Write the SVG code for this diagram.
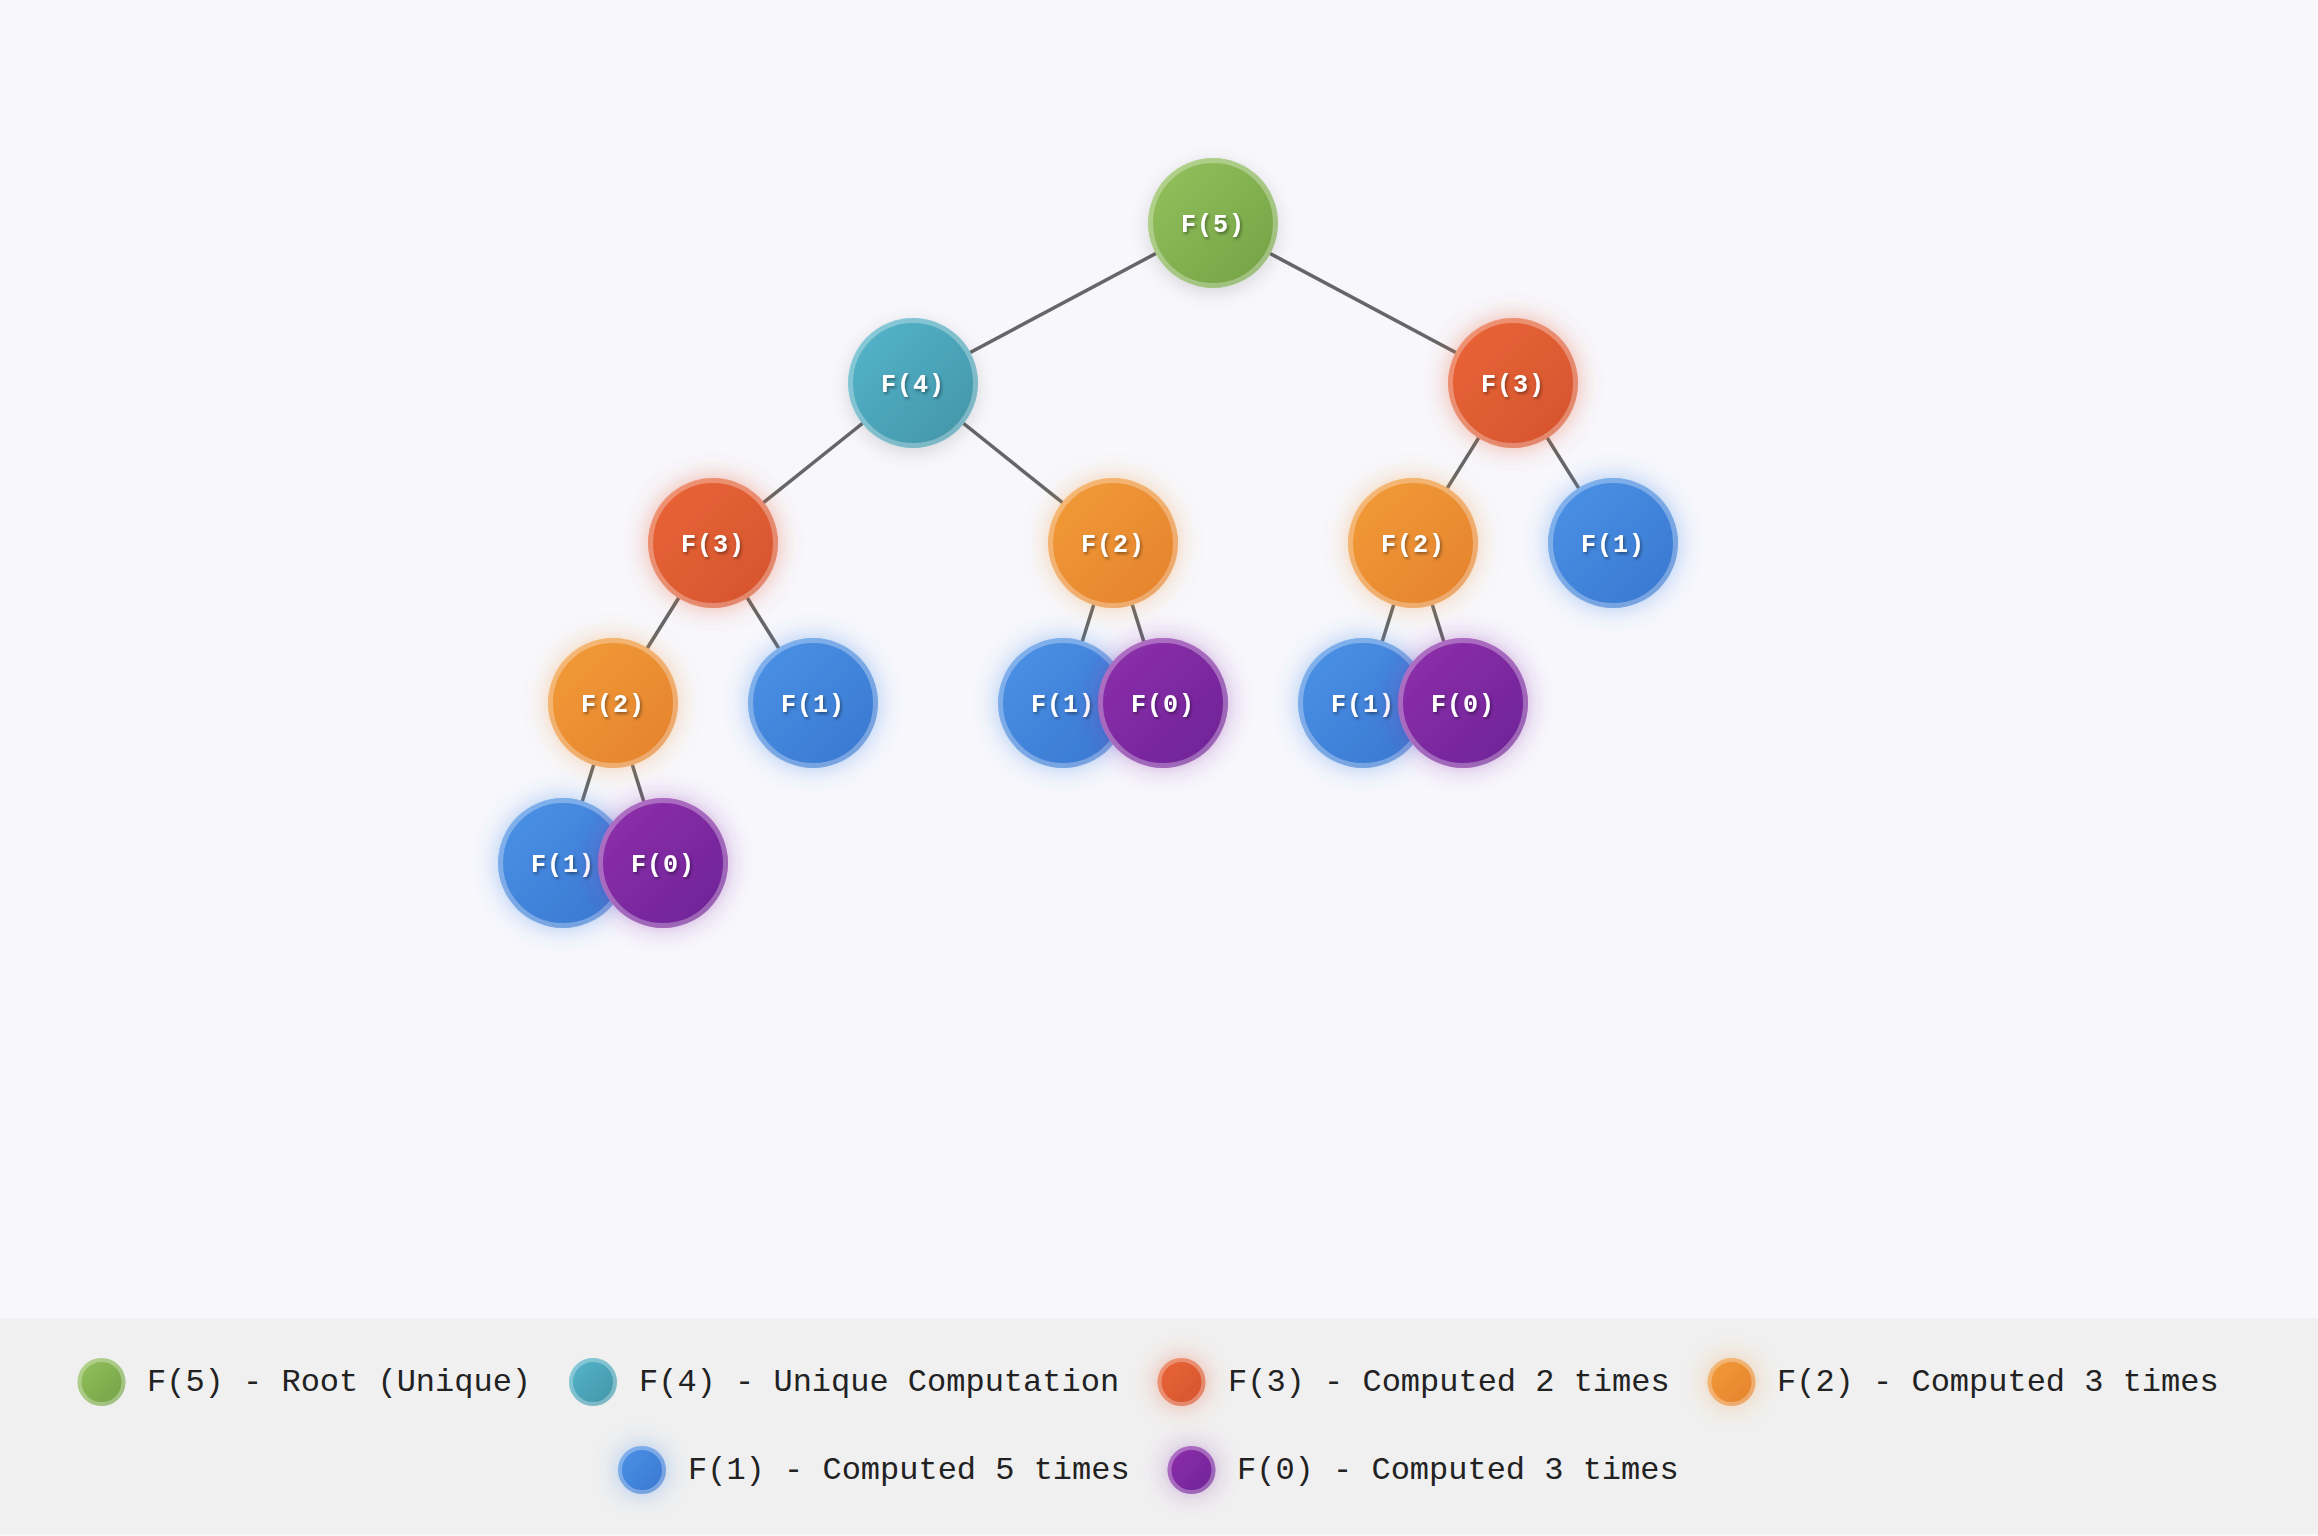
<svg xmlns="http://www.w3.org/2000/svg" width="2318" height="1536" viewBox="0 0 2318 1536">
<defs>
<linearGradient id="gGreen" x1="0" y1="0" x2="1" y2="1"><stop offset="0" stop-color="#95c25d"/><stop offset="1" stop-color="#72a045"/></linearGradient>
<linearGradient id="gTeal" x1="0" y1="0" x2="1" y2="1"><stop offset="0" stop-color="#55b6cc"/><stop offset="1" stop-color="#4293a6"/></linearGradient>
<linearGradient id="gRed" x1="0" y1="0" x2="1" y2="1"><stop offset="0" stop-color="#eb6538"/><stop offset="1" stop-color="#d4532d"/></linearGradient>
<linearGradient id="gOrange" x1="0" y1="0" x2="1" y2="1"><stop offset="0" stop-color="#f29c39"/><stop offset="1" stop-color="#e4812c"/></linearGradient>
<linearGradient id="gBlue" x1="0" y1="0" x2="1" y2="1"><stop offset="0" stop-color="#4b93e7"/><stop offset="1" stop-color="#3976cf"/></linearGradient>
<linearGradient id="gPurple" x1="0" y1="0" x2="1" y2="1"><stop offset="0" stop-color="#8f30ac"/><stop offset="1" stop-color="#6c2295"/></linearGradient>
<filter id="fShadow" x="-50%" y="-50%" width="200%" height="200%"><feDropShadow dx="0" dy="5" stdDeviation="9" flood-color="#000" flood-opacity="0.13"/></filter>
<filter id="fRed" x="-60%" y="-60%" width="220%" height="220%"><feDropShadow dx="0" dy="0" stdDeviation="12" flood-color="#e85d33" flood-opacity="0.45"/></filter>
<filter id="fOrange" x="-60%" y="-60%" width="220%" height="220%"><feDropShadow dx="0" dy="0" stdDeviation="12" flood-color="#f09433" flood-opacity="0.4"/></filter>
<filter id="fBlue" x="-60%" y="-60%" width="220%" height="220%"><feDropShadow dx="0" dy="0" stdDeviation="12" flood-color="#4a8ee6" flood-opacity="0.45"/></filter>
<filter id="fPurple" x="-60%" y="-60%" width="220%" height="220%"><feDropShadow dx="0" dy="0" stdDeviation="12" flood-color="#8a2ea8" flood-opacity="0.4"/></filter>
<filter id="fText" x="-20%" y="-40%" width="140%" height="180%"><feDropShadow dx="1.5" dy="2" stdDeviation="1.5" flood-color="#000" flood-opacity="0.4"/></filter>
</defs>
<style>
.edge{stroke:#666;stroke-width:3.5;fill:none}
.ring{fill:none;stroke:#fff;stroke-opacity:0.3;stroke-width:5}
.sring{fill:none;stroke:#fff;stroke-opacity:0.3;stroke-width:4}
.lbl{font-family:"Liberation Mono","Courier New",monospace;font-weight:bold;font-size:25px;fill:#fff;text-anchor:middle;letter-spacing:1px}
.leg{font-family:"Liberation Mono","Courier New",monospace;font-size:32px;fill:#222}
</style>
<rect x="0" y="0" width="2318" height="1536" fill="#f7f7fc"/>
<rect x="0" y="1318" width="2318" height="216" fill="#f0f0f0"/>
<g id="connectors">
<line class="edge" x1="1213" y1="223" x2="913" y2="383"/>
<line class="edge" x1="1213" y1="223" x2="1513" y2="383"/>
<line class="edge" x1="913" y1="383" x2="713" y2="543"/>
<line class="edge" x1="913" y1="383" x2="1113" y2="543"/>
<line class="edge" x1="1513" y1="383" x2="1413" y2="543"/>
<line class="edge" x1="1513" y1="383" x2="1613" y2="543"/>
<line class="edge" x1="713" y1="543" x2="613" y2="703"/>
<line class="edge" x1="713" y1="543" x2="813" y2="703"/>
<line class="edge" x1="1113" y1="543" x2="1063" y2="703"/>
<line class="edge" x1="1113" y1="543" x2="1163" y2="703"/>
<line class="edge" x1="1413" y1="543" x2="1363" y2="703"/>
<line class="edge" x1="1413" y1="543" x2="1463" y2="703"/>
<line class="edge" x1="613" y1="703" x2="563" y2="863"/>
<line class="edge" x1="613" y1="703" x2="663" y2="863"/>
</g>
<g id="n-f5"><circle cx="1213" cy="223" r="65" fill="url(#gGreen)" filter="url(#fShadow)"/><circle class="ring" cx="1213" cy="223" r="62.5"/><text class="lbl" x="1213" y="232" filter="url(#fText)">F(5)</text></g>
<g id="n-f4"><circle cx="913" cy="383" r="65" fill="url(#gTeal)" filter="url(#fShadow)"/><circle class="ring" cx="913" cy="383" r="62.5"/><text class="lbl" x="913" y="392" filter="url(#fText)">F(4)</text></g>
<g id="n-f3r"><circle cx="1513" cy="383" r="65" fill="url(#gRed)" filter="url(#fRed)"/><circle class="ring" cx="1513" cy="383" r="62.5"/><text class="lbl" x="1513" y="392" filter="url(#fText)">F(3)</text></g>
<g id="n-f3l"><circle cx="713" cy="543" r="65" fill="url(#gRed)" filter="url(#fRed)"/><circle class="ring" cx="713" cy="543" r="62.5"/><text class="lbl" x="713" y="552" filter="url(#fText)">F(3)</text></g>
<g id="n-f2a"><circle cx="1113" cy="543" r="65" fill="url(#gOrange)" filter="url(#fOrange)"/><circle class="ring" cx="1113" cy="543" r="62.5"/><text class="lbl" x="1113" y="552" filter="url(#fText)">F(2)</text></g>
<g id="n-f2b"><circle cx="1413" cy="543" r="65" fill="url(#gOrange)" filter="url(#fOrange)"/><circle class="ring" cx="1413" cy="543" r="62.5"/><text class="lbl" x="1413" y="552" filter="url(#fText)">F(2)</text></g>
<g id="n-f1r"><circle cx="1613" cy="543" r="65" fill="url(#gBlue)" filter="url(#fBlue)"/><circle class="ring" cx="1613" cy="543" r="62.5"/><text class="lbl" x="1613" y="552" filter="url(#fText)">F(1)</text></g>
<g id="n-f2c"><circle cx="613" cy="703" r="65" fill="url(#gOrange)" filter="url(#fOrange)"/><circle class="ring" cx="613" cy="703" r="62.5"/><text class="lbl" x="613" y="712" filter="url(#fText)">F(2)</text></g>
<g id="n-f1a"><circle cx="813" cy="703" r="65" fill="url(#gBlue)" filter="url(#fBlue)"/><circle class="ring" cx="813" cy="703" r="62.5"/><text class="lbl" x="813" y="712" filter="url(#fText)">F(1)</text></g>
<g id="n-f1b"><circle cx="1063" cy="703" r="65" fill="url(#gBlue)" filter="url(#fBlue)"/><circle class="ring" cx="1063" cy="703" r="62.5"/><text class="lbl" x="1063" y="712" filter="url(#fText)">F(1)</text></g>
<g id="n-f0b"><circle cx="1163" cy="703" r="65" fill="url(#gPurple)" filter="url(#fPurple)"/><circle class="ring" cx="1163" cy="703" r="62.5"/><text class="lbl" x="1163" y="712" filter="url(#fText)">F(0)</text></g>
<g id="n-f1c"><circle cx="1363" cy="703" r="65" fill="url(#gBlue)" filter="url(#fBlue)"/><circle class="ring" cx="1363" cy="703" r="62.5"/><text class="lbl" x="1363" y="712" filter="url(#fText)">F(1)</text></g>
<g id="n-f0c"><circle cx="1463" cy="703" r="65" fill="url(#gPurple)" filter="url(#fPurple)"/><circle class="ring" cx="1463" cy="703" r="62.5"/><text class="lbl" x="1463" y="712" filter="url(#fText)">F(0)</text></g>
<g id="n-f1d"><circle cx="563" cy="863" r="65" fill="url(#gBlue)" filter="url(#fBlue)"/><circle class="ring" cx="563" cy="863" r="62.5"/><text class="lbl" x="563" y="872" filter="url(#fText)">F(1)</text></g>
<g id="n-f0d"><circle cx="663" cy="863" r="65" fill="url(#gPurple)" filter="url(#fPurple)"/><circle class="ring" cx="663" cy="863" r="62.5"/><text class="lbl" x="663" y="872" filter="url(#fText)">F(0)</text></g>
<g id="legend">
<g id="leg-f5"><circle cx="101.5" cy="1382" r="24" fill="url(#gGreen)"/><circle class="sring" cx="101.5" cy="1382" r="22"/><text class="leg" x="147" y="1391">F(5) - Root (Unique)</text></g>
<g id="leg-f4"><circle cx="593" cy="1382" r="24" fill="url(#gTeal)"/><circle class="sring" cx="593" cy="1382" r="22"/><text class="leg" x="639" y="1391">F(4) - Unique Computation</text></g>
<g id="leg-f3"><circle cx="1181.5" cy="1382" r="24" fill="url(#gRed)" filter="url(#fRed)"/><circle class="sring" cx="1181.5" cy="1382" r="22"/><text class="leg" x="1228" y="1391">F(3) - Computed 2 times</text></g>
<g id="leg-f2"><circle cx="1731.5" cy="1382" r="24" fill="url(#gOrange)" filter="url(#fOrange)"/><circle class="sring" cx="1731.5" cy="1382" r="22"/><text class="leg" x="1777" y="1391">F(2) - Computed 3 times</text></g>
<g id="leg-f1"><circle cx="642" cy="1470" r="24" fill="url(#gBlue)" filter="url(#fBlue)"/><circle class="sring" cx="642" cy="1470" r="22"/><text class="leg" x="688" y="1479">F(1) - Computed 5 times</text></g>
<g id="leg-f0"><circle cx="1191.5" cy="1470" r="24" fill="url(#gPurple)" filter="url(#fPurple)"/><circle class="sring" cx="1191.5" cy="1470" r="22"/><text class="leg" x="1237" y="1479">F(0) - Computed 3 times</text></g>
</g>
</svg>
